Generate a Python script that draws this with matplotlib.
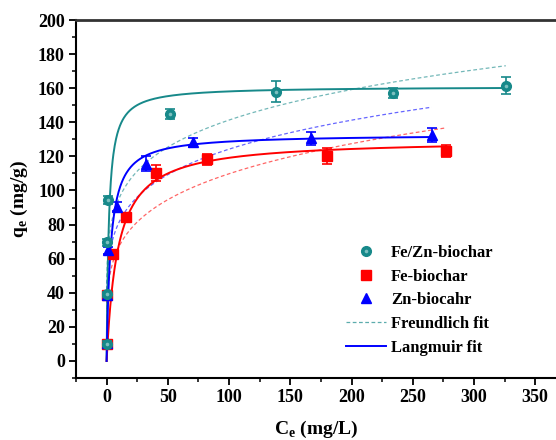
import numpy as np
import matplotlib
matplotlib.use("Agg")
import matplotlib.pyplot as plt
from matplotlib.lines import Line2D
from matplotlib.legend_handler import HandlerTuple
from matplotlib.ticker import MultipleLocator

# ---- data ----
fezn_x = [0.1, 0.3, 0.5, 1.2, 52, 138, 234, 326]
fezn_y = [10, 39, 69.5, 94.5, 145, 158, 157, 161.5]
fezn_err = [1.5, 1.5, 2, 2.5, 3, 6, 3, 5]

fe_x = [0.2, 0.5, 5.5, 16, 40.5, 82, 180, 277.5]
fe_y = [9.8, 38.5, 63, 84.5, 110.3, 118.2, 120.2, 123.2]
fe_err = [1.5, 1.5, 1.5, 1.5, 4.5, 3, 4.5, 3.5]

zn_x = [0.2, 0.5, 0.8, 8.2, 32, 70.5, 167, 265.5]
zn_y = [10.3, 38.8, 64.8, 90.5, 115.8, 128.2, 130.5, 132.5]
zn_err = [1.5, 1.5, 2, 2.5, 4.5, 2.5, 4, 4]

# fitted isotherm parameters
lang_fezn = (161.0, 0.55)   # qm, KL
lang_fe = (130.0, 0.11)
lang_zn = (133.0, 0.30)
freu_fezn = (64.0, 0.172)   # KF, 1/n
freu_fe = (40.8, 0.215)
freu_zn = (53.0, 0.185)
fit_end = {"fezn": 326, "fe": 277.5, "zn": 265.5}

legend_labels = ['Fe/Zn-biochar', 'Fe-biochar', 'Zn-biocahr', 'Freundlich fit', 'Langmuir fit']

teal = "#17898a"
teal_hi = "#7cc0c0"
red = "#ff0000"
blue = "#0000ff"

plt.rcParams['font.family'] = ['Liberation Serif', 'DejaVu Serif']
plt.rcParams['font.weight'] = 'bold'
plt.rcParams['mathtext.fontset'] = 'custom'
plt.rcParams['mathtext.rm'] = 'Liberation Serif'
plt.rcParams['mathtext.bf'] = 'Liberation Serif:bold'

fig = plt.figure(figsize=(5.56, 4.40), dpi=100)
ax = fig.add_axes([76/556, 1-378/440, 1-76/556, (378-20)/440])


def langmuir(c, p):
    qm, k = p
    return qm * k * c / (1 + k * c)


def freundlich(c, p):
    kf, inv_n = p
    return kf * c ** inv_n


for key, lp, fp, col in [("fezn", lang_fezn, freu_fezn, teal),
                         ("fe", lang_fe, freu_fe, red),
                         ("zn", lang_zn, freu_zn, blue)]:
    c = np.concatenate([np.linspace(0.0, 5, 400), np.linspace(5, fit_end[key], 600)])
    ax.plot(c, langmuir(c, lp), color=col, lw=1.4, zorder=3)
    cf = np.concatenate([np.linspace(0.05, 5, 300), np.linspace(5, fit_end[key], 600)])
    ax.plot(cf, freundlich(cf, fp), color=col, lw=0.9, ls=(0, (3, 2)), alpha=0.6, zorder=2)

ax.errorbar(fe_x, fe_y, yerr=fe_err, fmt='s', color=red, ms=6.5, capsize=3.5,
            elinewidth=1.2, capthick=1.2, zorder=4)
ax.errorbar(zn_x, zn_y, yerr=zn_err, fmt='^', color=blue, ms=7.5, capsize=3.5,
            elinewidth=1.2, capthick=1.2, zorder=4)
ax.errorbar(fezn_x, fezn_y, yerr=fezn_err, fmt='o', color=teal, ms=7, capsize=3.5,
            elinewidth=1.2, capthick=1.2, zorder=5)
ax.plot(fezn_x, fezn_y, 'o', color=teal_hi, mew=0, ms=2.6, zorder=6, ls='none')

ax.set_xlim(-25, 367)
ax.set_ylim(-10, 200)
ax.xaxis.set_major_locator(MultipleLocator(50))
ax.xaxis.set_minor_locator(MultipleLocator(25))
ax.yaxis.set_major_locator(MultipleLocator(20))
ax.yaxis.set_minor_locator(MultipleLocator(10))
ax.tick_params(which='major', direction='out', length=5, width=1.3, labelsize=13, pad=3)
ax.tick_params(which='minor', direction='out', length=3, width=1.1)
for lab in ax.get_xticklabels() + ax.get_yticklabels():
    lab.set_fontweight('bold')

ax.spines['right'].set_visible(False)
ax.spines['top'].set_color('#333333')
ax.spines['top'].set_linewidth(2)
ax.spines['left'].set_linewidth(1.5)
ax.spines['bottom'].set_linewidth(1.5)

ax.set_xlabel(r'C$_\mathregular{e}$ (mg/L)', fontsize=14, fontweight='bold', labelpad=9)
ax.set_ylabel(r'q$_\mathregular{e}$ (mg/g)', fontsize=14, fontweight='bold', labelpad=6)

h1 = (Line2D([], [], marker='o', color=teal, ms=7, ls='none'),
      Line2D([], [], marker='o', color=teal_hi, mew=0, ms=2.6, ls='none'))
h2 = Line2D([], [], marker='s', color=red, ms=6.5, ls='none')
h3 = Line2D([], [], marker='^', color=blue, ms=7.5, ls='none')
h4 = Line2D([], [], color=teal, lw=0.9, ls=(0, (3, 2)), alpha=0.7)
h5 = Line2D([], [], color=blue, lw=1.4)
leg = ax.legend([h1, h2, h3, h4, h5], legend_labels,
                handler_map={tuple: HandlerTuple(ndivide=1, pad=0)},
                loc='upper left', bbox_to_anchor=(346/556, 1-245/440),
                bbox_transform=fig.transFigure, frameon=False,
                borderaxespad=0, borderpad=0,
                handlelength=2.4, handletextpad=0.3, labelspacing=0.46,
                prop={'family': 'Liberation Serif', 'weight': 'bold', 'size': 12})

fig.savefig('out.png', dpi=100)
